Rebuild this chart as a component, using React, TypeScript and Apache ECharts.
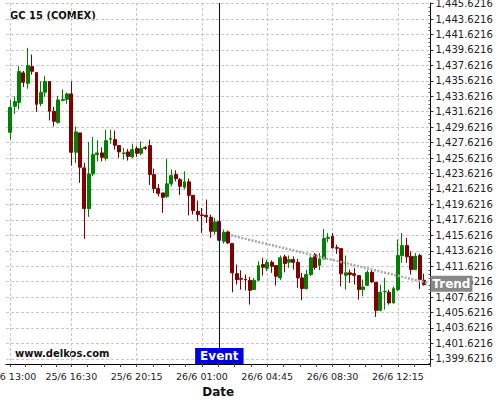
import React, { useEffect, useRef } from 'react';
import * as echarts from 'echarts';

const xTickIdx = [0, 14, 29, 44, 59, 74, 89];
const xTickLabels = ['25/6 13:00', '25/6 16:30', '25/6 20:15', '26/6 01:00', '26/6 04:45', '26/6 08:30', '26/6 12:15'];
const yTicks = [
  1399.6216, 1401.6216, 1403.6216, 1405.6216, 1407.6216, 1409.6216, 1411.6216, 1413.6216,
  1415.6216, 1417.6216, 1419.6216, 1421.6216, 1423.6216, 1425.6216, 1427.6216, 1429.6216,
  1431.6216, 1433.6216, 1435.6216, 1437.6216, 1439.6216, 1441.6216, 1443.6216, 1445.6216,
];

const openV = [
  1428.96, 1432.33, 1432.84, 1436.65, 1435.30, 1437.46, 1436.69, 1432.67, 1434.14, 1435.52,
  1431.68, 1430.21, 1433.10, 1433.23, 1433.93, 1426.37, 1428.88, 1424.35, 1419.08, 1423.57,
  1426.07, 1426.29, 1425.59, 1428.05, 1428.01, 1427.24, 1426.20, 1426.42, 1425.77, 1426.85,
  1426.24, 1426.98, 1427.24, 1423.48, 1421.67, 1421.11, 1420.63, 1422.28, 1423.48, 1422.83,
  1421.84, 1422.54, 1420.80, 1418.73, 1418.26, 1418.21, 1417.95, 1416.10, 1417.40, 1414.85,
  1416.06, 1414.55, 1410.66, 1410.02, 1409.93, 1409.80, 1408.59, 1409.80, 1411.83, 1411.35,
  1412.13, 1411.70, 1410.11, 1412.83, 1412.13, 1412.48, 1412.13, 1410.11, 1408.72, 1410.54,
  1413.12, 1411.74, 1412.57, 1415.23, 1415.49, 1414.03, 1413.90, 1410.44, 1410.76, 1410.66,
  1410.41, 1408.59, 1409.15, 1410.83, 1409.54, 1405.91, 1408.30, 1408.24, 1406.87, 1408.59,
  1413.00, 1414.29, 1412.90, 1411.18, 1413.00, 1409.80,
];
const closeV = [
  1432.20, 1432.93, 1436.82, 1435.43, 1437.59, 1436.86, 1432.58, 1434.10, 1435.52, 1431.68,
  1430.38, 1433.15, 1433.23, 1433.93, 1426.37, 1429.01, 1424.43, 1419.08, 1423.57, 1426.07,
  1426.29, 1425.72, 1427.88, 1428.14, 1427.28, 1426.42, 1426.29, 1425.85, 1426.72, 1426.24,
  1426.85, 1426.89, 1423.48, 1421.67, 1421.06, 1420.54, 1422.28, 1423.35, 1422.96, 1421.97,
  1422.54, 1420.80, 1418.82, 1418.30, 1418.17, 1418.01, 1416.14, 1417.36, 1414.98, 1416.01,
  1414.64, 1410.76, 1409.89, 1409.93, 1409.85, 1408.50, 1409.80, 1411.70, 1411.48, 1412.13,
  1411.61, 1410.32, 1412.70, 1411.96, 1412.48, 1412.13, 1410.11, 1408.72, 1410.54, 1412.70,
  1411.44, 1412.57, 1415.20, 1415.33, 1413.99, 1413.94, 1410.63, 1410.76, 1410.54, 1410.44,
  1408.59, 1408.94, 1410.83, 1409.59, 1405.91, 1408.24, 1408.37, 1406.87, 1408.72, 1413.00,
  1414.29, 1412.83, 1411.18, 1412.90, 1409.89, 1409.24,
];
const lowV = [
  1428.01, 1431.34, 1431.90, 1434.84, 1434.58, 1436.43, 1431.60, 1432.33, 1433.54, 1430.51,
  1429.70, 1430.09, 1432.97, 1432.64, 1424.65, 1425.00, 1422.41, 1415.16, 1418.01, 1423.26,
  1425.20, 1425.20, 1425.29, 1427.46, 1426.72, 1425.64, 1425.42, 1425.29, 1425.64, 1425.77,
  1425.98, 1426.68, 1422.15, 1421.11, 1420.67, 1418.52, 1420.47, 1421.97, 1422.61, 1420.85,
  1421.54, 1418.21, 1418.30, 1417.44, 1415.93, 1417.23, 1415.29, 1415.71, 1414.64, 1414.55,
  1414.51, 1408.24, 1409.24, 1408.59, 1408.50, 1406.65, 1408.59, 1409.67, 1410.41, 1410.96,
  1410.76, 1409.11, 1409.80, 1410.83, 1411.40, 1411.18, 1408.81, 1407.21, 1408.59, 1410.32,
  1411.18, 1411.09, 1412.48, 1414.72, 1413.99, 1413.22, 1409.02, 1408.59, 1409.46, 1409.24,
  1407.30, 1407.73, 1409.11, 1409.46, 1405.06, 1405.78, 1406.00, 1406.65, 1406.78, 1408.37,
  1412.05, 1412.05, 1410.54, 1411.18, 1408.68, 1409.11,
];
const highV = [
  1433.15, 1433.62, 1437.50, 1436.90, 1439.89, 1439.02, 1436.69, 1435.56, 1436.26, 1435.52,
  1432.25, 1433.67, 1434.53, 1434.10, 1435.56, 1429.70, 1428.88, 1425.00, 1427.72, 1428.36,
  1427.92, 1427.02, 1429.27, 1429.31, 1429.18, 1427.24, 1426.94, 1426.81, 1427.46, 1427.15,
  1427.79, 1427.20, 1428.01, 1424.26, 1422.28, 1421.11, 1425.51, 1424.13, 1424.04, 1423.05,
  1423.91, 1422.96, 1420.80, 1420.12, 1419.17, 1420.25, 1418.30, 1417.88, 1417.40, 1416.36,
  1416.23, 1414.55, 1411.83, 1411.09, 1410.54, 1410.24, 1410.11, 1412.26, 1412.70, 1412.48,
  1412.39, 1411.70, 1413.00, 1413.12, 1413.00, 1412.90, 1412.57, 1410.76, 1411.18, 1412.90,
  1413.34, 1413.34, 1416.45, 1415.93, 1415.93, 1414.42, 1413.90, 1413.00, 1411.18, 1411.40,
  1410.41, 1409.89, 1411.09, 1411.18, 1409.54, 1409.24, 1410.11, 1408.59, 1409.02, 1415.07,
  1415.93, 1415.29, 1413.55, 1413.34, 1413.25, 1410.66,
];

const eventIdx = 48;
const eventLabelPrice = 1401.03;
const trendX = [50.7, 95.8];
const trendY = [1415.62, 1409.45];

const xMin = -1;
const xMax = 96.5;
const yMin = 1398.96;
const yMax = 1445.697;

const FONT = 'DejaVu Sans';

function fmtPrice(v: number): string {
  const s = Number(v).toFixed(4);
  const [i, d] = s.split('.');
  return i.replace(/\B(?=(\d{3})+(?!\d))/g, ',') + '.' + d;
}

export default function App() {
  const ref = useRef<HTMLDivElement>(null);
  useEffect(() => {
    if (!ref.current) return;
    const chart = echarts.init(ref.current, null, { renderer: 'svg' });

    const xMinor: number[] = [];
    for (let i = 0; i < xTickIdx.length - 1; i++) {
      const a = xTickIdx[i];
      const b = xTickIdx[i + 1];
      for (let j = 1; j < 4; j++) xMinor.push(a + ((b - a) * j) / 4);
    }
    const lastStep = (xTickIdx[xTickIdx.length - 1] - xTickIdx[xTickIdx.length - 2]) / 4;
    for (let j = 1; j < 4; j++) {
      const v = xTickIdx[xTickIdx.length - 1] + lastStep * j;
      if (v <= xMax) xMinor.push(v);
    }
    const yMinor: number[] = [];
    for (let i = 0; i < yTicks.length; i++) {
      for (let j = -3; j < 0; j++) {
        const v = yTicks[i] + j * 0.5;
        if (v >= yMin && v <= yMax) yMinor.push(v);
      }
    }

    const candleData = openV.map((o, i) => [i, o, closeV[i], lowV[i], highV[i]]);

    const option: any = {
      animation: false,
      backgroundColor: '#ffffff',
      textStyle: { fontFamily: FONT },
      grid: { left: 6, right: 69.5, top: 3, bottom: 36, containLabel: false, outerBoundsMode: 'none' },
      xAxis: [
        {
          type: 'value', min: xMin, max: xMax, position: 'bottom',
          name: 'Date', nameLocation: 'middle', nameGap: 19,
          nameTextStyle: { fontSize: 12, fontWeight: 'bold', color: '#111', fontFamily: FONT },
          axisLine: { show: true, onZero: false, lineStyle: { color: '#000', width: 1 } },
          axisTick: { show: true, customValues: xTickIdx, length: 3, lineStyle: { color: '#444' } },
          axisLabel: {
            show: true, customValues: xTickIdx, margin: 7, fontSize: 9.5, color: '#222', fontFamily: FONT,
            formatter: (v: number) => {
              const i = xTickIdx.indexOf(Math.round(v));
              return i >= 0 ? xTickLabels[i] : '';
            },
          },
          splitLine: { show: true, lineStyle: { color: '#c8c8c8', width: 1, type: [3, 2] } },
        },
        {
          type: 'value', min: xMin, max: xMax, position: 'bottom',
          axisLine: { show: false, onZero: false },
          axisTick: { show: true, customValues: xMinor, length: 3, lineStyle: { color: '#444' } },
          axisLabel: { show: false },
          splitLine: { show: false },
        },
      ],
      yAxis: [
        {
          type: 'value', min: yMin, max: yMax, position: 'right',
          axisLine: { show: true, onZero: false, lineStyle: { color: '#000', width: 1 } },
          axisTick: { show: true, customValues: yTicks, length: 3, lineStyle: { color: '#333' } },
          axisLabel: {
            show: true, customValues: yTicks, margin: 5, fontSize: 10, color: '#222', fontFamily: FONT,
            formatter: (v: number) => fmtPrice(v),
          },
          splitLine: { show: true, lineStyle: { color: '#c8c8c8', width: 1, type: [3, 2] } },
        },
        {
          type: 'value', min: yMin, max: yMax, position: 'right',
          axisLine: { show: false, onZero: false },
          axisTick: { show: true, customValues: yMinor, inside: true, length: 2, lineStyle: { color: '#555' } },
          axisLabel: { show: false },
          splitLine: { show: false },
        },
      ],
      graphic: [
        {
          type: 'text', left: 10, top: 10, silent: true,
          style: { text: 'GC 15 (COMEX)', font: `bold 10px "${FONT}"`, fill: '#111' },
        },
        {
          type: 'text', left: 15, top: 348, silent: true,
          style: { text: 'www.delkos.com', font: `bold 10px "${FONT}"`, fill: '#111' },
        },
      ],
      series: [
        {
          type: 'candlestick',
          xAxisIndex: 0,
          yAxisIndex: 0,
          data: candleData,
          barWidth: 3.4,
          itemStyle: {
            color: '#008000', color0: '#800000',
            borderColor: '#008000', borderColor0: '#800000',
            borderWidth: 1,
          },
          markLine: {
            silent: true,
            animation: false,
            symbol: ['none', 'none'],
            data: [
              [
                {
                  coord: [eventIdx, yMax],
                  lineStyle: { color: '#0000aa', width: 1, type: 'solid' },
                  label: {
                    show: true, position: 'end', formatter: 'Event', distance: 0,
                    color: '#fff', backgroundColor: '#0000e6', fontWeight: 'bold', fontSize: 12,
                    lineHeight: 14, padding: [1, 5, 1, 5], fontFamily: FONT,
                  },
                },
                { coord: [eventIdx, eventLabelPrice] },
              ],
              [
                {
                  coord: [trendX[0], trendY[0]],
                  lineStyle: { color: '#a8a8a8', width: 2.5, type: [2, 1.5] },
                  label: {
                    show: true, position: 'end', formatter: 'Trend', distance: 3,
                    color: '#fff', backgroundColor: '#888888', fontWeight: 'bold', fontSize: 12,
                    lineHeight: 14, padding: [1, 2, 1, 2], fontFamily: FONT,
                  },
                },
                { coord: [trendX[1], trendY[1]] },
              ],
            ],
          },
        },
      ],
    };
    chart.setOption(option);
    return () => chart.dispose();
  }, []);
  return (
    <div
      ref={ref}
      style={{ position: 'fixed', left: 0, top: 0, width: 500, height: 400, background: '#fff' }}
    />
  );
}
